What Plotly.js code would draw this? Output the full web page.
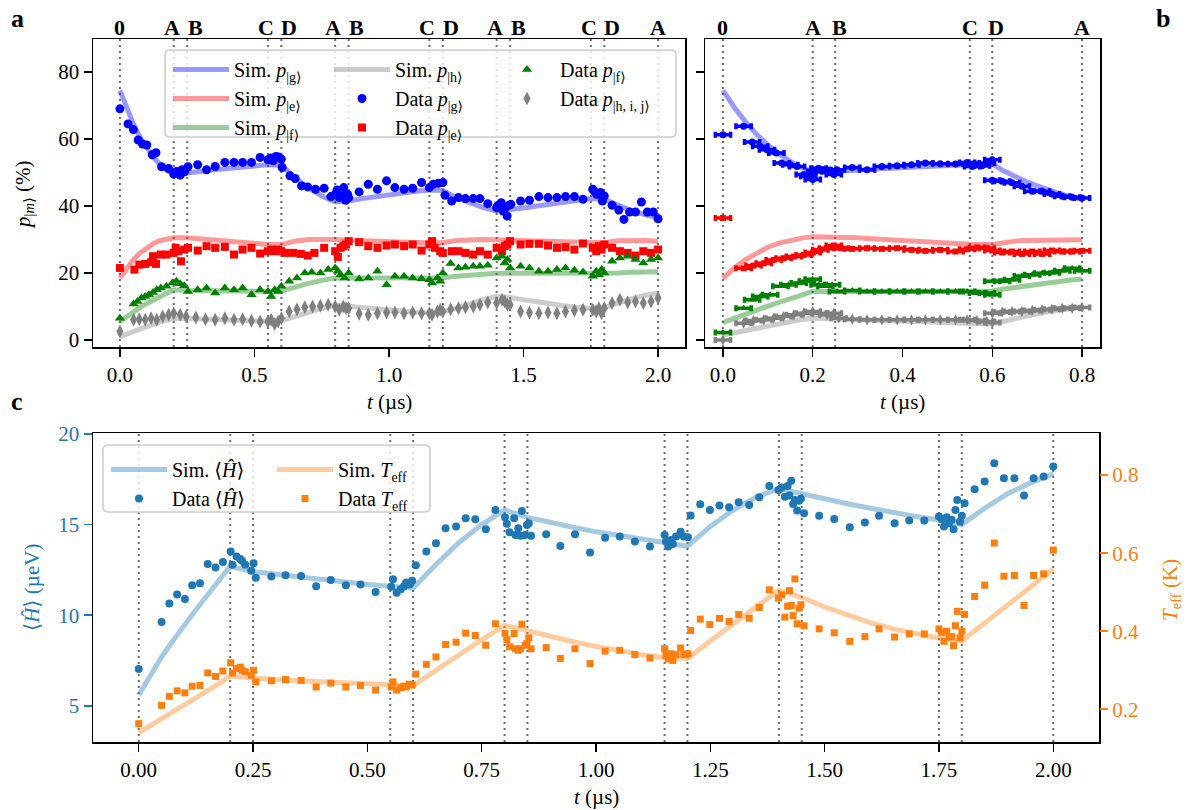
<!DOCTYPE html>
<html><head><meta charset="utf-8">
<script src="https://cdn.plot.ly/plotly-3.0.1.min.js"></script>
<style>html,body{margin:0;padding:0;background:#fff}</style>
</head><body><div id="plot" style="width:1188px;height:810px"></div>
<script>
// ---------- event markers ----------
const eventsA = [0,0.2,0.25,0.55,0.6,0.8,0.85,1.15,1.2,1.4,1.45,1.75,1.8,2.0];
const eventLabelsA = ['0','A','B','C','D','A','B','C','D','A','B','C','D','A'];
const eventsB = [0,0.2,0.25,0.55,0.6,0.8];
const eventLabelsB = ['0','A','B','C','D','A'];

// ---------- panel a: simulation ----------
const tSimA = [0,0.025,0.05,0.075,0.1,0.125,0.15,0.175,0.2,0.25,0.3,0.35,0.4,0.45,0.5,0.55,0.6,0.65,0.7,0.75,0.8,0.85,0.9,0.95,1.0,1.05,1.1,1.15,1.2,1.25,1.3,1.35,1.4,1.45,1.5,1.55,1.6,1.65,1.7,1.75,1.8,1.85,1.9,1.95,2.0];
const simGa = [74.5,69,64.5,60.5,57.2,54.5,52.3,50.6,49.5, 49.8,50.3,50.8,51.2,51.6,52.0,52.3, 52.2,48.5,45.5,43.0,41.2, 41.5,42.2,42.8,43.4,43.9,44.4,44.8, 44.6,42.5,40.8,39.5,38.5, 38.8,39.4,40.0,40.6,41.2,41.7,42.2, 42.0,40.2,38.6,37.4,36.5];
const simEa = [18.5,21.5,24.0,26.0,27.6,28.8,29.7,30.2,30.5, 30.5,30.2,29.8,29.4,29.0,28.7,28.5, 28.5,29.5,30.0,30.1,30.0, 29.8,29.6,29.4,29.3,29.2,29.1,29.0, 29.0,29.7,30.0,30.0,29.9, 29.8,29.6,29.4,29.3,29.2,29.1,29.0, 29.0,29.6,29.8,29.7,29.5];
const simFa = [5.5,7.0,8.4,9.7,10.9,12.0,13.0,14.0,15.0, 14.8,14.7,14.6,14.6,14.5,14.5,14.5, 14.6,15.8,16.9,17.8,18.5, 18.5,18.5,18.5,18.5,18.5,18.5,18.5, 18.6,19.0,19.4,19.7,19.9, 19.9,19.9,19.8,19.8,19.8,19.8,19.8, 19.8,20.0,20.2,20.3,20.4];
const simHa = [1.0,1.8,2.6,3.3,4.0,4.7,5.3,5.9,6.4, 6.4,6.2,6.0,5.9,5.7,5.6,5.5, 5.7,7.0,8.2,9.4,10.4, 10.2,9.7,9.3,8.9,8.6,8.3,8.1, 8.3,9.5,10.8,12.0,13.0, 12.7,12.0,11.3,10.7,10.2,9.8,9.5, 9.7,11.1,12.3,13.3,14.0];

// ---------- panel a: data ----------
const tGa = [0,0.03,0.05,0.068,0.084,0.1,0.12,0.134,0.155,0.181, 0.2,0.21,0.217,0.224,0.231,0.24,0.253,0.289,0.322,0.354, 0.39,0.424,0.456,0.489,0.521,0.55,0.56,0.57,0.58,0.59, 0.6,0.603,0.632,0.651,0.675,0.698,0.727,0.759,0.784,0.8, 0.807,0.815,0.824,0.832,0.839,0.846,0.85,0.889,0.923,0.957, 0.991,1.022,1.056,1.088,1.121,1.15,1.164,1.183,1.2,1.208, 1.233,1.258,1.284,1.313,1.338,1.367,1.4,1.403,1.417,1.424, 1.432,1.439,1.446,1.453,1.489,1.522,1.557,1.591,1.624,1.656, 1.689,1.721,1.757,1.765,1.772,1.786,1.793,1.8,1.829,1.854, 1.873,1.894,1.916,1.938,1.96,1.982,2.0];
const pGa = [69,64.5,62.8,59.7,58.5,58.2,55.3,55.9,51.7,51.2, 49.5,50.3,50.0,49.2,50.8,50.2,51.7,52.3,50.8,51.8, 53.0,53.0,53.0,53.0,54.5,53.8,54.3,53.5,54.8,54.6, 54.0,51.5,49.0,48.2,46.0,45.7,45.0,45.3,42.8,43.5, 44.8,42.5,43.0,45.5,41.7,43.5,42.5,44.2,46.5,45.0, 47.5,45.5,45.0,45.3,47.0,45.5,46.5,46.8,47.0,43.2, 41.5,42.5,42.2,42.2,42.2,40.7,39.5,40.0,41.0,38.5, 39.5,37.0,40.2,40.5,41.5,41.7,42.8,42.5,42.5,42.8, 42.8,42.0,45.0,44.2,43.5,44.0,41.5,43.0,40.2,38.8, 36.0,38.2,38.2,41.2,38.2,38.2,36.2];
const tEa = [0,0.054,0.072,0.094,0.116,0.123,0.134,0.152,0.173,0.2, 0.207,0.217,0.227,0.239,0.253,0.289,0.322,0.354,0.39,0.424, 0.456,0.489,0.521,0.55,0.562,0.575,0.588,0.6,0.615,0.644, 0.672,0.698,0.723,0.759,0.8,0.81,0.82,0.83,0.84,0.85, 0.889,0.923,0.957,0.991,1.022,1.056,1.088,1.121,1.15,1.16, 1.17,1.19,1.2,1.233,1.258,1.284,1.313,1.338,1.367,1.4, 1.42,1.43,1.44,1.45,1.489,1.522,1.557,1.591,1.624,1.656, 1.689,1.721,1.757,1.77,1.78,1.79,1.8,1.829,1.858,1.887, 1.916,1.945,1.974,2.0];
const pEa = [21.5,21.0,22.5,22.7,23.2,25.0,22.7,25.5,25.5,26.0, 27.5,26.5,23.5,27.0,27.5,26.7,28.0,27.5,27.8,25.5, 27.0,27.5,25.8,26.5,27.0,26.5,27.0,26.5,26.0,26.0, 25.7,25.2,26.0,27.5,26.5,24.8,27.5,28.0,28.5,29.5, 29.2,28.0,27.5,28.2,28.5,28.0,28.5,26.7,28.5,29.5, 27.5,26.5,26.0,26.5,26.5,26.0,25.5,26.5,25.5,27.5, 26.5,28.0,28.5,29.5,28.5,28.7,28.7,28.2,27.5,27.7, 27.0,28.8,27.5,26.5,28.0,27.0,28.5,27.5,26.5,26.0, 25.2,26.5,26.0,27.0];
const tFa = [0,0.051,0.065,0.08,0.094,0.108,0.123,0.137,0.152,0.173, 0.195,0.21,0.224,0.239,0.253,0.289,0.322,0.354,0.39,0.424, 0.456,0.489,0.521,0.55,0.562,0.575,0.588,0.6,0.629,0.658, 0.687,0.713,0.745,0.774,0.8,0.81,0.82,0.835,0.85,0.889, 0.923,0.957,0.991,1.022,1.056,1.088,1.121,1.15,1.16,1.18, 1.19,1.2,1.229,1.258,1.284,1.313,1.338,1.367,1.4,1.42, 1.43,1.44,1.45,1.489,1.522,1.557,1.591,1.624,1.656,1.689, 1.721,1.757,1.77,1.78,1.79,1.8,1.829,1.858,1.887,1.916, 1.945,1.974,2.0];
const pFa = [6.5,10.7,11.5,12.5,13.0,13.5,14.2,15.0,15.5,16.0, 17.0,17.5,16.8,16.2,14.5,15.0,15.5,14.0,15.5,15.0, 15.5,13.5,15.0,14.5,13.0,15.0,14.5,16.0,17.5,18.5, 20.0,20.2,20.0,21.0,21.5,20.5,19.5,18.5,20.0,18.2, 18.5,20.5,16.5,19.0,19.0,18.5,18.3,18.0,17.0,18.5, 17.5,20.0,22.8,21.5,21.7,22.0,22.0,22.3,24.5,25.0, 23.0,24.0,21.5,22.0,21.5,20.5,20.5,21.0,21.5,20.8, 20.3,19.0,20.5,19.5,21.0,20.0,23.5,24.5,25.0,24.0, 23.0,24.0,24.5];
const tHa = [0,0.051,0.072,0.094,0.116,0.137,0.159,0.181,0.2,0.224, 0.246,0.282,0.318,0.354,0.39,0.424,0.456,0.489,0.521,0.55, 0.562,0.575,0.588,0.6,0.629,0.658,0.687,0.716,0.745,0.774, 0.8,0.815,0.83,0.84,0.85,0.889,0.923,0.957,0.991,1.022, 1.056,1.088,1.121,1.15,1.16,1.18,1.19,1.2,1.229,1.258, 1.284,1.313,1.338,1.367,1.4,1.42,1.43,1.44,1.45,1.489, 1.522,1.557,1.591,1.624,1.656,1.689,1.721,1.757,1.77,1.78, 1.79,1.8,1.829,1.858,1.887,1.916,1.945,1.974,2.0];
const pHa = [2.5,6.0,6.2,6.0,6.5,6.0,7.0,7.5,8.0,7.5, 7.0,6.7,6.2,6.0,6.5,6.0,6.2,5.7,5.5,5.5, 6.0,4.8,5.5,6.5,8.5,9.2,9.8,10.0,10.2,10.5, 10.0,9.0,10.0,9.5,9.5,7.8,7.5,8.0,8.2,8.2, 8.0,8.2,8.0,8.0,7.5,8.5,9.0,8.5,9.2,9.5, 9.8,10.0,10.5,11.2,11.0,12.0,11.5,10.5,10.5,8.5, 8.2,8.0,8.2,8.0,8.5,8.8,9.0,9.0,8.5,9.5, 8.0,9.5,11.0,12.0,11.2,11.5,11.0,11.5,12.5];

// ---------- panel b: simulation ----------
const tSimB = [0,0.025,0.05,0.075,0.1,0.125,0.15,0.175,0.2,0.25,0.3,0.35,0.4,0.45,0.5,0.55,0.6,0.625,0.65,0.675,0.7,0.725,0.75,0.775,0.8];
const simGb = [74.5,69.5,65.2,61.4,58.2,55.5,53.3,51.5,50.2, 50.3,50.7,51.1,51.5,51.8,52.1,52.3, 52.5,50.5,48.8,47.3,46.0,44.8,43.7,42.8,42.0];
const simEb = [18.4,21.5,24.0,26.0,27.7,28.9,29.8,30.4,30.8, 30.8,30.5,30.1,29.7,29.3,28.9,28.6, 28.5,29.1,29.5,29.7,29.8,29.9,29.9,29.9,29.9];
const simFb = [5.2,6.5,7.7,8.9,10.1,11.2,12.3,13.4,14.5, 14.5,14.5,14.5,14.5,14.5,14.5,14.5, 14.6,15.2,15.7,16.2,16.7,17.1,17.5,17.9,18.2];
const simHb = [1.5,2.2,2.9,3.6,4.3,5.0,5.6,6.1,6.5, 6.3,6.0,5.8,5.5,5.3,5.1,4.9, 4.8,5.6,6.4,7.1,7.8,8.4,9.0,9.5,10.0];

// ---------- panel b: data ----------
const tGb = [0,0.046,0.065,0.083,0.098,0.119,0.131,0.150,0.165,0.18, 0.19,0.2,0.206,0.213,0.224,0.236,0.247,0.254,0.288,0.321, 0.354,0.388,0.420,0.451,0.484,0.518,0.544,0.555,0.566,0.577, 0.588,0.6,0.6,0.622,0.644,0.666,0.689,0.711,0.733,0.756, 0.778,0.8];
const pGb = [61.3,63.8,59.1,57.8,56.8,55.8,52.8,52.3,51.8,49.4, 48.9,47.9,50.3,51.3,50.8,50.3,49.4,50.8,51.5,50.8, 51.8,52.0,52.3,52.8,52.6,52.5,53.0,51.8,52.3,52.0, 52.8,53.8,47.7,47.4,46.9,45.9,44.4,44.4,43.6,42.9, 42.6,42.4];
const tEb = [0,0.046,0.068,0.091,0.113,0.135,0.158,0.18,0.2,0.217, 0.232,0.247,0.262,0.288,0.321,0.354,0.388,0.420,0.451,0.484, 0.518,0.544,0.566,0.588,0.6,0.622,0.644,0.666,0.689,0.711, 0.733,0.756,0.778,0.8];
const pEb = [36.4,21.4,22.2,22.9,23.9,24.4,24.9,25.4,26.1,26.9, 27.4,28.2,27.4,27.2,27.4,27.2,27.4,26.9,26.6,26.9, 26.4,27.1,27.6,27.4,26.7,26.1,26.4,25.7,26.4,25.7, 26.7,26.4,26.4,26.6];
const tFb = [0,0.046,0.065,0.083,0.105,0.128,0.146,0.169,0.187,0.2, 0.213,0.228,0.243,0.254,0.288,0.321,0.354,0.388,0.420,0.451, 0.484,0.518,0.544,0.566,0.588,0.6,0.6,0.622,0.644,0.666, 0.689,0.711,0.733,0.756,0.778,0.8];
const pFb = [2.2,9.5,12.0,13.0,13.5,16.0,16.5,17.0,17.5,18.1, 16.5,16.0,16.5,14.5,14.8,14.5,14.5,14.5,14.5,14.5, 14.5,14.5,14.5,14.0,14.0,13.5,17.5,17.5,18.0,19.1, 19.5,19.9,20.1,20.7,21.4,20.7];
const tHb = [0,0.046,0.068,0.091,0.113,0.135,0.158,0.18,0.2,0.217, 0.232,0.247,0.258,0.288,0.321,0.354,0.388,0.420,0.451,0.484, 0.518,0.544,0.566,0.588,0.6,0.6,0.622,0.644,0.666,0.689, 0.711,0.733,0.756,0.778,0.8];
const pHb = [0.0,5.0,5.8,6.0,6.5,7.0,7.5,8.0,8.5,8.0, 7.5,8.0,6.5,6.2,6.0,6.0,6.0,6.0,6.0,6.0, 6.0,6.0,5.8,5.5,5.2,8.0,8.3,8.5,8.5,8.8, 9.0,9.2,9.5,9.5,9.7];
const xerrB = 0.017;

// ---------- panel c ----------
const tSimC = tSimA;
const simEnergy = [5.6,6.7,7.7,8.6,9.5,10.3,11.1,11.9,12.7, 12.4,12.25,12.1,11.95,11.8,11.7,11.6, 11.5,12.8,14.0,15.0,15.8, 15.4,15.1,14.85,14.6,14.4,14.2,14.0, 13.8,14.9,15.8,16.5,17.0, 16.7,16.4,16.15,15.9,15.65,15.45,15.25, 15.0,15.9,16.7,17.3,17.8];
const simTeff = [0.14,0.158,0.175,0.193,0.21,0.228,0.245,0.265,0.285, 0.279,0.276,0.273,0.27,0.267,0.264,0.262, 0.26,0.3,0.34,0.378,0.415, 0.4,0.386,0.373,0.361,0.35,0.34,0.332, 0.33,0.375,0.42,0.462,0.505, 0.487,0.462,0.441,0.422,0.406,0.393,0.382, 0.375,0.42,0.467,0.513,0.56];
const tC = [0,0.05,0.067,0.084,0.101,0.117,0.134,0.151,0.168,0.184, 0.201,0.205,0.214,0.222,0.226,0.233,0.246,0.251,0.256,0.29, 0.321,0.355,0.388,0.42,0.453,0.485,0.518,0.552,0.556,0.564, 0.573,0.58,0.585,0.592,0.598,0.606,0.629,0.65,0.671,0.694, 0.715,0.736,0.759,0.78,0.801,0.805,0.811,0.821,0.824,0.83, 0.835,0.838,0.845,0.849,0.853,0.858,0.891,0.922,0.954,0.987, 1.02,1.052,1.085,1.118,1.15,1.153,1.158,1.164,1.168,1.175, 1.185,1.192,1.201,1.207,1.228,1.249,1.27,1.291,1.312,1.335, 1.357,1.379,1.399,1.406,1.413,1.419,1.423,1.427,1.431,1.435, 1.44,1.444,1.448,1.455,1.488,1.521,1.555,1.588,1.619,1.653, 1.685,1.718,1.75,1.756,1.761,1.767,1.772,1.778,1.782,1.786, 1.79,1.796,1.8,1.806,1.828,1.85,1.871,1.892,1.915,1.936, 1.957,1.979,2.0];
const dataEnergy = [7.04,9.63,10.65,11.15,10.9,11.65,11.76,12.83,12.63,12.94, 13.51,12.78,13.24,13.1,13.0,12.78,12.46,12.87,12.07,12.13, 12.2,12.17,11.6,11.94,11.65,11.7,11.28,11.57,11.98,11.24, 11.43,11.6,11.8,11.7,11.9,12.76,13.51,13.97,14.8,14.89, 15.35,15.29,14.74,15.81,15.4,15.04,14.58,15.35,14.43,14.8, 14.38,15.75,14.43,14.98,15.07,14.38,14.47,13.82,14.47,13.46, 14.28,14.34,14.06,13.79,14.43,14.06,13.79,14.15,13.93,14.34, 14.61,14.34,14.3,15.5,16.12,15.81,16.05,15.96,16.23,16.08, 16.51,17.13,16.91,17.04,16.54,17.13,16.6,17.41,16.14,16.36, 15.77,16.32,16.42,15.63,15.48,15.31,14.85,15.11,15.48,15.07, 15.22,15.22,15.44,15.29,14.89,15.4,15.07,15.26,14.74,15.81, 16.36,15.17,15.48,16.18,16.95,17.37,18.38,17.56,17.56,16.6, 17.56,17.65,18.2];
const dataTeff = [0.163,0.21,0.233,0.247,0.242,0.259,0.261,0.293,0.284,0.298, 0.319,0.293,0.304,0.308,0.30,0.296,0.287,0.30,0.27,0.273, 0.276,0.274,0.257,0.267,0.257,0.261,0.249,0.257,0.27,0.249, 0.255,0.259,0.257,0.264,0.262,0.29,0.315,0.334,0.366,0.372, 0.395,0.389,0.364,0.419,0.395,0.378,0.36,0.394,0.355,0.351, 0.355,0.418,0.364,0.368,0.383,0.355,0.358,0.33,0.355,0.317, 0.349,0.351,0.34,0.331,0.355,0.338,0.329,0.342,0.325,0.34, 0.357,0.34,0.342,0.402,0.431,0.417,0.433,0.425,0.443,0.433, 0.461,0.506,0.485,0.493,0.436,0.464,0.504,0.466,0.44,0.534, 0.419,0.459,0.468,0.414,0.406,0.396,0.374,0.386,0.406,0.385, 0.393,0.393,0.406,0.397,0.374,0.40,0.385,0.386,0.363,0.414, 0.451,0.383,0.40,0.443,0.489,0.518,0.626,0.541,0.543,0.466, 0.543,0.547,0.608];

// ---------- helpers ----------
const W = 1188, H = 810;
const px = x => x / W;
const py = y => 1 - y / H;
const FONT = 'Liberation Serif, DejaVu Serif, serif';
const cBlue = '#0000ff', cRed = '#ff0000', cGreen = '#008000', cGray = '#808080';
const cTab = '#1f77b4', cOrange = '#ff7f0e';

function simTrace(x, y, color, name, xa, ya, legend, show) {
  return {type:'scatter', mode:'lines', x:x, y:y, xaxis:xa, yaxis:ya, name:name,
    legend:legend, showlegend:show, line:{color:color, width:5}, hoverinfo:'skip'};
}
function dataTrace(x, y, color, symbol, size, name, xa, ya, legend, show, err) {
  const t = {type:'scatter', mode:'markers', x:x, y:y, xaxis:xa, yaxis:ya, name:name,
    legend:legend, showlegend:show, marker:{color:color, symbol:symbol, size:size, line:{width:0}}, hoverinfo:'skip'};
  if (err) t.error_x = {type:'constant', value:err, thickness:3.5, width:3, color:color};
  return t;
}

const traces = [
  simTrace(tSimA, simGa, 'rgba(0,0,255,0.4)', 'Sim. <i>p</i><sub>|g⟩</sub>', 'x', 'y', 'legend', true),
  simTrace(tSimA, simEa, 'rgba(255,0,0,0.4)', 'Sim. <i>p</i><sub>|e⟩</sub>', 'x', 'y', 'legend', true),
  simTrace(tSimA, simFa, 'rgba(0,128,0,0.4)', 'Sim. <i>p</i><sub>|f⟩</sub>', 'x', 'y', 'legend', true),
  simTrace(tSimA, simHa, 'rgba(128,128,128,0.4)', 'Sim. <i>p</i><sub>|h⟩</sub>', 'x', 'y', 'legend2', true),
  dataTrace(tGa, pGa, cBlue, 'circle', 9, 'Data <i>p</i><sub>|g⟩</sub>', 'x', 'y', 'legend2', true),
  dataTrace(tEa, pEa, cRed, 'square', 8, 'Data <i>p</i><sub>|e⟩</sub>', 'x', 'y', 'legend2', true),
  dataTrace(tFa, pFa, cGreen, 'triangle-up', 9, 'Data <i>p</i><sub>|f⟩</sub>', 'x', 'y', 'legend3', true),
  dataTrace(tHa, pHa, cGray, 'diamond-tall', 10, 'Data <i>p</i><sub>|h, i, j⟩</sub>', 'x', 'y', 'legend3', true),

  simTrace(tSimB, simGb, 'rgba(0,0,255,0.4)', 'g', 'x2', 'y2', 'legend', false),
  simTrace(tSimB, simEb, 'rgba(255,0,0,0.4)', 'e', 'x2', 'y2', 'legend', false),
  simTrace(tSimB, simFb, 'rgba(0,128,0,0.4)', 'f', 'x2', 'y2', 'legend', false),
  simTrace(tSimB, simHb, 'rgba(128,128,128,0.4)', 'h', 'x2', 'y2', 'legend', false),
  dataTrace(tGb, pGb, cBlue, 'circle', 7, 'g', 'x2', 'y2', 'legend', false, xerrB),
  dataTrace(tEb, pEb, cRed, 'square', 6, 'e', 'x2', 'y2', 'legend', false, xerrB),
  dataTrace(tFb, pFb, cGreen, 'triangle-up', 7, 'f', 'x2', 'y2', 'legend', false, xerrB),
  dataTrace(tHb, pHb, cGray, 'diamond-tall', 8, 'h', 'x2', 'y2', 'legend', false, xerrB),

  simTrace(tSimC, simEnergy, 'rgba(31,119,180,0.4)', 'Sim. ⟨<i>Ĥ</i>⟩', 'x3', 'y3', 'legend4', true),
  dataTrace(tC, dataEnergy, cTab, 'circle', 8, 'Data ⟨<i>Ĥ</i>⟩', 'x3', 'y3', 'legend4', true),
  simTrace(tSimC, simTeff, 'rgba(255,127,14,0.4)', 'Sim. <i>T</i><sub>eff</sub>', 'x3', 'y4', 'legend5', true),
  dataTrace(tC, dataTeff, cOrange, 'square', 7, 'Data <i>T</i><sub>eff</sub>', 'x3', 'y4', 'legend5', true)
];

// ---------- shapes ----------
const shapes = [];
const dotLine = {color:'rgba(70,70,70,0.8)', width:2, dash:'2px,4px'};
eventsA.forEach(t => shapes.push({type:'line', xref:'x', yref:'y domain', x0:t, x1:t, y0:0, y1:1, line:dotLine, layer:'below'}));
eventsB.forEach(t => shapes.push({type:'line', xref:'x2', yref:'y2 domain', x0:t, x1:t, y0:0, y1:1, line:dotLine, layer:'below'}));
eventsA.forEach(t => shapes.push({type:'line', xref:'x3', yref:'y3 domain', x0:t, x1:t, y0:0, y1:1, line:dotLine, layer:'below'}));

function roundBox(x0, y0, x1, y1, r) {
  const X = v => px(v).toFixed(5), Y = v => py(v).toFixed(5);
  const d = `M${X(x0+r)},${Y(y0)} L${X(x1-r)},${Y(y0)} Q${X(x1)},${Y(y0)} ${X(x1)},${Y(y0+r)} ` +
    `L${X(x1)},${Y(y1-r)} Q${X(x1)},${Y(y1)} ${X(x1-r)},${Y(y1)} L${X(x0+r)},${Y(y1)} ` +
    `Q${X(x0)},${Y(y1)} ${X(x0)},${Y(y1-r)} L${X(x0)},${Y(y0+r)} Q${X(x0)},${Y(y0)} ${X(x0+r)},${Y(y0)} Z`;
  return {type:'path', xref:'paper', yref:'paper', path:d, fillcolor:'rgba(255,255,255,0.8)',
    line:{color:'#cccccc', width:1.5}, layer:'above'};
}
shapes.push(roundBox(165, 50, 676, 137, 5));
shapes.push(roundBox(103, 445, 430, 512, 5));

// ---------- annotations ----------
const ann = [];
function note(o) { return Object.assign({showarrow:false, xanchor:'center', yanchor:'middle'}, o); }
const evFont = {family:FONT, size:22, color:'#000'};
eventsA.forEach((t, i) => ann.push(note({xref:'x', yref:'paper', x:t, y:py(28), text:'<b>'+eventLabelsA[i]+'</b>', font:evFont,
  xshift:(eventLabelsA[i]==='B'||eventLabelsA[i]==='D') ? 8 : (i>0 && i<eventsA.length-1 ? -2 : 0)})));
eventsB.forEach((t, i) => ann.push(note({xref:'x2', yref:'paper', x:t, y:py(28), text:'<b>'+eventLabelsB[i]+'</b>', font:evFont,
  xshift:(eventLabelsB[i]==='B'||eventLabelsB[i]==='D') ? 4 : 0})));
const lblFont = {family:FONT, size:26, color:'#000'};
ann.push(note({xref:'paper', yref:'paper', x:px(17), y:py(18), text:'<b>a</b>', font:lblFont}));
ann.push(note({xref:'paper', yref:'paper', x:px(1163), y:py(18), text:'<b>b</b>', font:lblFont}));
ann.push(note({xref:'paper', yref:'paper', x:px(17), y:py(402), text:'<b>c</b>', font:lblFont}));
const ttlFont = {family:FONT, size:21, color:'#000'};
ann.push(note({xref:'paper', yref:'paper', x:px(389), y:py(402), text:'<i>t</i> (µs)', font:ttlFont}));
ann.push(note({xref:'paper', yref:'paper', x:px(902), y:py(402), text:'<i>t</i> (µs)', font:ttlFont}));
ann.push(note({xref:'paper', yref:'paper', x:px(596), y:py(797), text:'<i>t</i> (µs)', font:ttlFont}));
ann.push(note({xref:'paper', yref:'paper', x:px(24), y:py(195), text:'<i>p</i><sub>|<i>m</i>⟩</sub> (%)', textangle:-90, font:ttlFont}));
ann.push(note({xref:'paper', yref:'paper', x:px(32), y:py(588), text:'⟨<i>Ĥ</i>⟩ (µeV)', textangle:-90, font:Object.assign({}, ttlFont, {color:cTab})}));
ann.push(note({xref:'paper', yref:'paper', x:px(1171), y:py(590), text:'<i>T</i><sub>eff</sub> (K)', textangle:-90, font:Object.assign({}, ttlFont, {color:cOrange})}));

// ---------- axes ----------
const tickFont = {family:FONT, size:21, color:'#000'};
function axisBase(extra) {
  return Object.assign({showgrid:false, zeroline:false, showline:true, mirror:true, linecolor:'#000', linewidth:1.5,
    ticks:'outside', ticklen:8, tickwidth:1.5, tickcolor:'#000', tickfont:tickFont, fixedrange:true}, extra);
}
const legFont = {family:FONT, size:20, color:'#000'};
function leg(x, y) {
  return {x:px(x), y:py(y), xanchor:'left', yanchor:'top', bgcolor:'rgba(0,0,0,0)', borderwidth:0,
    font:legFont, itemwidth:56, tracegroupgap:0};
}

const layout = {
  width:W, height:H, margin:{l:0, r:0, t:0, b:0}, paper_bgcolor:'#fff', plot_bgcolor:'rgba(0,0,0,0)',
  font:{family:FONT, size:20, color:'#000'},
  xaxis: axisBase({domain:[px(93), px(685)], range:[-0.1, 2.1], anchor:'y', tickvals:[0,0.5,1,1.5,2], tickformat:'.1f'}),
  yaxis: axisBase({domain:[py(347), py(39)], range:[-2.1, 89.85], anchor:'x', tickvals:[0,20,40,60,80]}),
  xaxis2: axisBase({domain:[px(705), px(1100)], range:[-0.04, 0.84], anchor:'y2', tickvals:[0,0.2,0.4,0.6,0.8], tickformat:'.1f'}),
  yaxis2: axisBase({domain:[py(347), py(39)], range:[-2.1, 89.85], anchor:'x2', tickvals:[0,20,40,60,80], showticklabels:false}),
  xaxis3: axisBase({domain:[px(93), px(1099)], range:[-0.1, 2.1], anchor:'y3', tickvals:[0,0.25,0.5,0.75,1,1.25,1.5,1.75,2], tickformat:'.2f'}),
  yaxis3: axisBase({domain:[py(742), py(433)], range:[3.01, 20.05], anchor:'x3', tickvals:[5,10,15,20],
    tickcolor:cTab, tickfont:Object.assign({}, tickFont, {color:cTab})}),
  yaxis4: {overlaying:'y3', side:'right', anchor:'x3', range:[0.116, 0.908], showgrid:false, zeroline:false, showline:false,
    ticks:'outside', ticklen:8, tickwidth:1.5, tickcolor:cOrange, tickvals:[0.2,0.4,0.6,0.8], tickformat:'.1f',
    tickfont:Object.assign({}, tickFont, {color:cOrange}), fixedrange:true},
  legend: leg(168, 50),
  legend2: leg(329, 50),
  legend3: leg(494, 50),
  legend4: leg(106, 450),
  legend5: leg(272, 450),
  shapes: shapes,
  annotations: ann,
  showlegend: true
};

Plotly.newPlot('plot', traces, layout, {displayModeBar:false, staticPlot:true});
</script></body></html>
